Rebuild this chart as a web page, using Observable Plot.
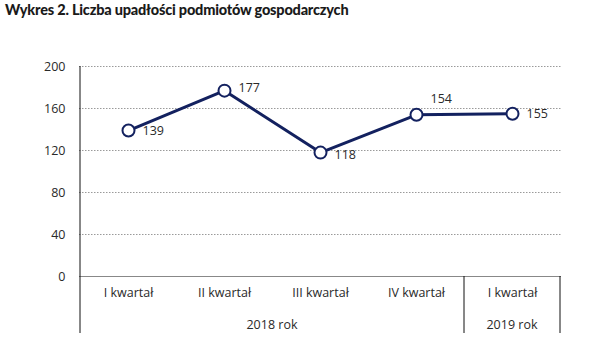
<!DOCTYPE html>
<html><head><meta charset="utf-8">
<script src="https://cdn.jsdelivr.net/npm/d3@7"></script>
<script src="https://cdn.jsdelivr.net/npm/@observablehq/plot@0.6"></script>
<style>
body{margin:0;background:#fff;}
#title{font-family:Lato,sans-serif;font-weight:900;font-size:14.5px;height:28px;padding-left:5px;line-height:20px;color:#1a1a1a;white-space:nowrap;letter-spacing:-0.2px}
#chart svg{display:block}
</style></head><body>
<div id="title">Wykres 2. Liczba upadłości podmiotów gospodarczych</div>
<div id="chart"></div>
<script>
const keys = ["2018-I","2018-II","2018-III","2018-IV","2019-I"];
const quarterLabels = ["I kwartał","II kwartał","III kwartał","IV kwartał","I kwartał"];
const values = [139,177,118,154,155];
const yTicks = [0,40,80,120,160,200];
const yearGroups = [["2018 rok","2018-I","2018-IV"],["2019 rok","2019-I","2019-I"]];
const labelDy = [0,-3,2,-16,0];

const data = keys.map((k,i)=>({key:k, quarter:quarterLabels[i], value:values[i]}));
const navy = "#13215f";
const font = "'Open Sans', sans-serif";

const plot = Plot.plot({
  width: 601, height: 311,
  marginLeft: 79, marginRight: 40, marginTop: 38, marginBottom: 63,
  style: {fontFamily: font, fontSize: "12px", color: "#2a2a2a", background: "white"},
  x: {type: "point", domain: keys, padding: 0.5, axis: null},
  y: {domain: [0, 200], axis: null},
  marks: [
    Plot.gridY(yTicks.filter(t => t > 0), {stroke: "#9a9a9a", strokeOpacity: 1, strokeDasharray: "1.5,1.5"}),
    Plot.ruleY([0], {stroke: "#888"}),
    Plot.axisY(yTicks, {tickSize: 0, tickPadding: 14, fontSize: 12.5, fill: "#2a2a2a", label: null}),
    Plot.line(data, {x: "key", y: "value", stroke: navy, strokeWidth: 3}),
    Plot.dot(data, {x: "key", y: "value", r: 6, fill: "white", stroke: navy, strokeWidth: 2}),
    ...data.map((d,i) => Plot.text([d], {x: "key", y: "value", text: d => String(d.value), textAnchor: "start", dx: 14, dy: labelDy[i], fontSize: 12.5, fill: "#2a2a2a"})),
    Plot.text(data, {x: "key", text: "quarter", frameAnchor: "bottom", dy: 20, fontSize: 12.5, fill: "#2a2a2a"})
  ]
});

const sx = plot.scale("x");
const step = sx.apply(keys[1]) - sx.apply(keys[0]);
const svg = d3.select(plot);
const bottom = 311 - 63;
const g = svg.append("g");
g.append("line").attr("x1", sx.apply(keys[0]) - step/2).attr("x2", sx.apply(keys[0]) - step/2)
  .attr("y1", 38).attr("y2", 305).attr("stroke", "#111").attr("stroke-width", 1);
yearGroups.forEach(([label, from, to]) => {
  const x0 = sx.apply(from) - step/2, x1 = sx.apply(to) + step/2;
  g.append("line").attr("x1", x1).attr("x2", x1).attr("y1", bottom).attr("y2", 305)
    .attr("stroke", "#111").attr("stroke-width", 1);
  g.append("text").attr("x", (x0 + x1)/2).attr("y", bottom + 48.5).attr("dy", "0.32em")
    .attr("text-anchor", "middle").attr("font-size", 12.5).attr("fill", "#2a2a2a").text(label);
});
document.getElementById("chart").append(plot);
</script>
</body></html>
